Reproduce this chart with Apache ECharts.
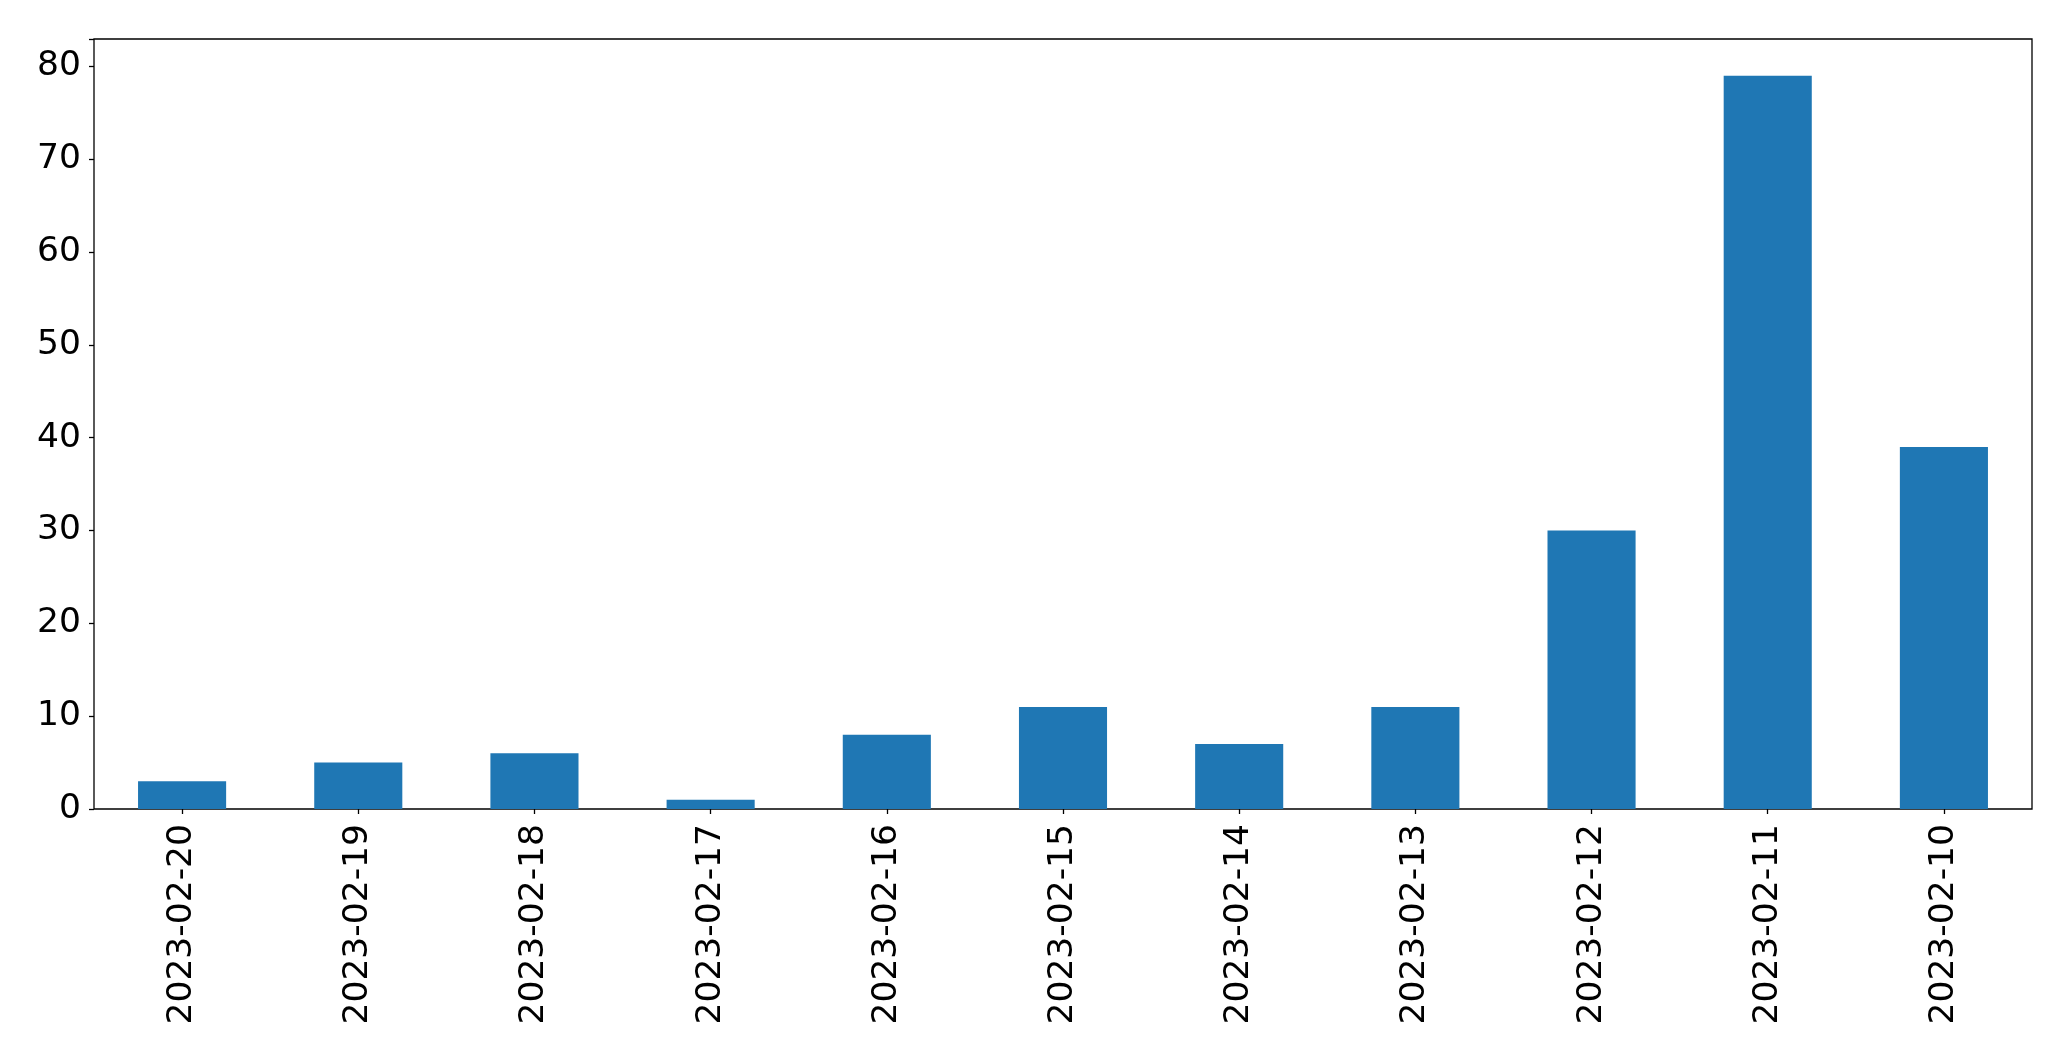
<!DOCTYPE html>
<html>
<head>
<meta charset="utf-8">
<script src="https://cdn.jsdelivr.net/npm/echarts@6/dist/echarts.min.js"></script>
<style>
  html, body { margin: 0; padding: 0; background: #fff; }
  #chart { width: 2071px; height: 1061px; }
</style>
</head>
<body>
<div id="chart"></div>
<script>
// 数据
const dates = ['2023-02-20', '2023-02-19', '2023-02-18', '2023-02-17', '2023-02-16', '2023-02-15',
  '2023-02-14', '2023-02-13', '2023-02-12', '2023-02-11', '2023-02-10']
const counts = [3, 5, 6, 1, 8, 11, 7, 11, 30, 79, 39]
const yTicks = [0, 10, 20, 30, 40, 50, 60, 70, 80]

const font = 'DejaVu Sans'
const chart = echarts.init(document.getElementById('chart'))
const option = {
  animation: false,
  grid: {
    left: 94, right: 39, top: 39, bottom: 252,
    show: true, borderColor: '#000', borderWidth: 1.3, backgroundColor: 'transparent'
  },
  xAxis: {
    type: 'category',
    data: dates,
    boundaryGap: true,
    axisLine: { show: false },
    axisTick: { show: true, alignWithLabel: true, length: 5, lineStyle: { color: '#000', width: 1.3 } },
    axisLabel: { rotate: 90, margin: 15, color: '#000', fontFamily: font, fontSize: 34.5 },
    splitLine: { show: false }
  },
  yAxis: {
    type: 'value',
    min: 0,
    max: Math.max(...counts) * 1.05, // matplotlib 默认留白
    interval: 10,
    axisLine: { show: false },
    axisTick: { show: true, length: 5, lineStyle: { color: '#000', width: 1.3 } },
    axisLabel: {
      margin: 13, color: '#000', fontFamily: font, fontSize: 34.5,
      formatter: v => (yTicks.includes(v) ? String(v) : '')
    },
    splitLine: { show: false }
  },
  series: [
    {
      type: 'bar',
      data: counts,
      barWidth: '50%',
      itemStyle: { color: '#1f77b4' }
    }
  ]
}
chart.setOption(option)
</script>
</body>
</html>
